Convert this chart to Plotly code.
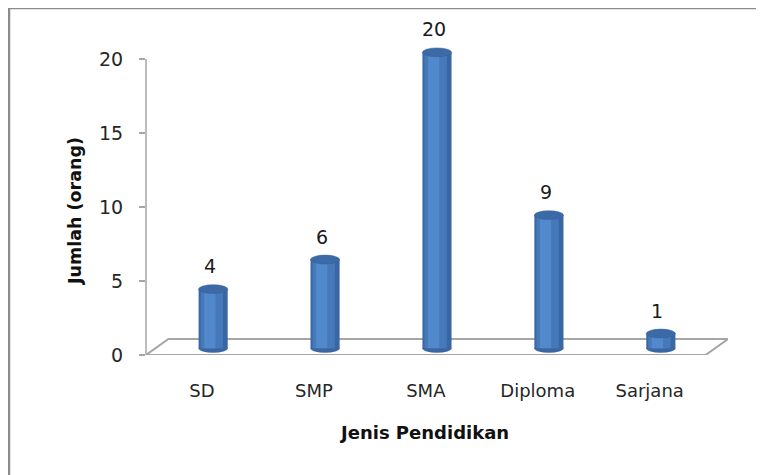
import numpy as np
import plotly.graph_objects as go

# data
categories = ["SD", "SMP", "SMA", "Diploma", "Sarjana"]
values = [4, 6, 20, 9, 1]
y_ticks = [0, 5, 10, 15, 20]

FONT = "DejaVu Sans"
depth = 0.1      # cylinder sits half way into the 3D floor
base = 0.45
width = 0.26

# the page body adds 8px, so the plot area is given in figure pixels
L, W, T, H = 138, 582, 7, 340


def px(x):
    return (x - L) / W


def py(y):
    return (T + H - y) / H


pos = np.arange(len(categories)) + depth

fig = go.Figure()

# cylinder body: a few overlaid bars to fake the shading
for w, dx, col in [(width, 0, "#3a67a3"), (0.2, -0.012, "#4679ba"), (0.1, -0.03, "#5289cc")]:
    fig.add_trace(go.Bar(x=pos + dx, y=values, base=base, width=w,
                         marker=dict(color=col, line=dict(width=0)),
                         hoverinfo="skip", showlegend=False))

annotations = [
    dict(text=str(v), x=p - 0.03, y=v + base + 1.55, xref="x", yref="y",
         showarrow=False, xanchor="center", yanchor="middle",
         font=dict(family=FONT, size=19, color="#1a1a1a"))
    for p, v in zip(pos, values)
]
annotations += [
    dict(text="<b>Jumlah (orang)</b>", xref="paper", yref="paper", x=px(67), y=py(203),
         xanchor="center", yanchor="middle",
         textangle=-90, showarrow=False, font=dict(family=FONT, size=17.5, color="#111111")),
    dict(text="<b>Jenis Pendidikan</b>", xref="paper", yref="paper", x=px(416), y=py(424),
         xanchor="center", yanchor="middle",
         showarrow=False, font=dict(family=FONT, size=18, color="#111111")),
]

shapes = []
# floor
shapes.append(dict(type="path", xref="x", yref="y",
                   path="M -0.5,0 L -0.3,1.08 L 4.7,1.08 L 4.5,0 Z",
                   line=dict(color="#a6a6a6", width=2), fillcolor="rgba(0,0,0,0)", layer="below"))
# y axis line
shapes.append(dict(type="line", xref="paper", yref="y", x0=0, x1=0, y0=0, y1=20,
                   line=dict(color="#a6a6a6", width=1.5)))
# chart border (top and left visible)
shapes.append(dict(type="rect", xref="paper", yref="paper",
                   x0=px(1), x1=px(775), y0=py(0), y1=py(485),
                   line=dict(color="#8c8c8c", width=2.5)))
# cylinder caps
for p, v in zip(pos, values):
    shapes.append(dict(type="circle", xref="x", yref="y",
                       x0=p - width / 2, x1=p + width / 2, y0=base - 0.3, y1=base + 0.3,
                       fillcolor="#3a67a3", line=dict(width=0), layer="below"))
    shapes.append(dict(type="circle", xref="x", yref="y",
                       x0=p - width / 2, x1=p + width / 2, y0=v + base - 0.3, y1=v + base + 0.3,
                       fillcolor="#3c6aa6", line=dict(color="#35609a", width=0.5)))

fig.update_layout(
    width=764, height=475,
    margin=dict(l=L, r=764 - L - W, t=T, b=475 - T - H),
    paper_bgcolor="white", plot_bgcolor="white",
    barmode="overlay",
    shapes=shapes,
    annotations=annotations,
    xaxis=dict(range=[-0.5, 4.7], tickmode="array", tickvals=list(range(len(categories))),
               ticktext=categories, showgrid=False, zeroline=False, showline=False,
               ticks="", ticklabelstandoff=23,
               tickfont=dict(family=FONT, size=18, color="#262626")),
    yaxis=dict(range=[0, H / 14.8], tickmode="array", tickvals=y_ticks,
               showgrid=False, zeroline=False, showline=False,
               ticks="outside", ticklen=6, tickcolor="#a6a6a6", tickwidth=1.5,
               ticklabelstandoff=12,
               tickfont=dict(family=FONT, size=19, color="#262626")),
)

fig.write_html("out.html")
